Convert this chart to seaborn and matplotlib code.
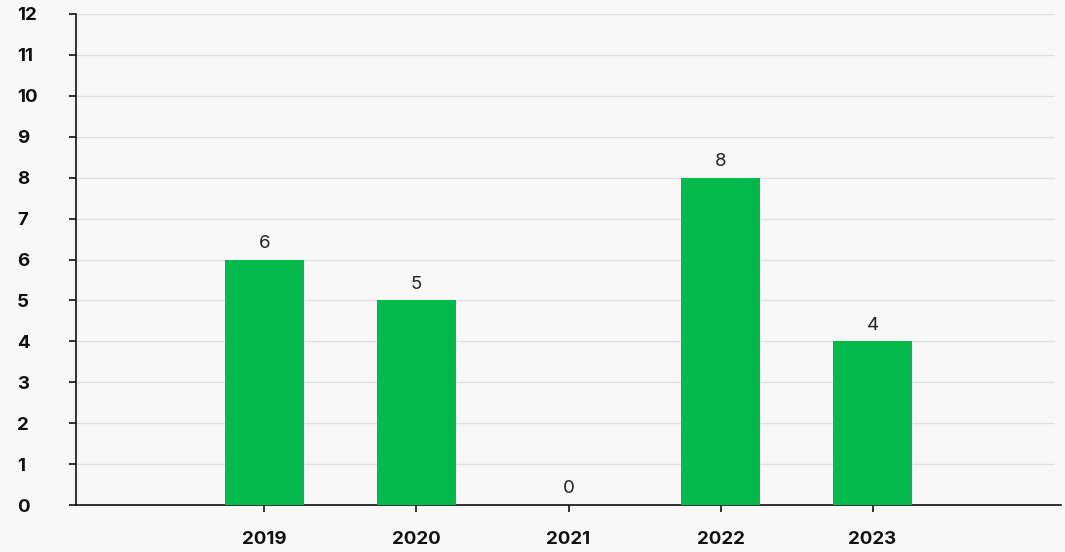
import matplotlib
matplotlib.use("Agg")
import matplotlib.pyplot as plt
import seaborn as sns
import pandas as pd

years = ["2019", "2020", "2021", "2022", "2023"]
counts = [6, 5, 0, 8, 4]
y_ticks = list(range(0, 13))

BG = "#f8f8f8"
GREEN = "#02ba4c"

sns.set_theme(style="white")
plt.rcParams["font.family"] = ["Inter", "DejaVu Sans"]

df = pd.DataFrame({"year": years, "count": counts})

fig = plt.figure(figsize=(10.65, 5.52), dpi=100, facecolor=BG)
ax = fig.add_axes([76 / 1065, 47 / 552, 985 / 1065, 491 / 552])
ax.set_facecolor(BG)

sns.barplot(data=df, x="year", y="count", order=years, color=GREEN,
            width=0.52, saturation=1, linewidth=0, ax=ax, zorder=3)

ax.set_xlim(-1.24, 5.24)
ax.set_ylim(0, 12)
ax.set_yticks(y_ticks)
ax.set_xlabel("")
ax.set_ylabel("")

for y in y_ticks[1:]:
    ax.axhline(y, xmin=0, xmax=978 / 985, color="#e0e0e0", lw=1, zorder=1)

for s in ["top", "right"]:
    ax.spines[s].set_visible(False)
for s in ["left", "bottom"]:
    ax.spines[s].set_color("#111111")
    ax.spines[s].set_linewidth(1.2)

ax.tick_params(axis="y", left=True, length=5, width=1.2, color="#111111",
               pad=37.5, labelsize=13.5, labelcolor="#111111")
ax.tick_params(axis="x", bottom=True, length=5, width=1.2, color="#111111",
               pad=14, labelsize=13.5, labelcolor="#111111")
for lab in ax.get_yticklabels():
    lab.set_fontweight("bold")
    lab.set_horizontalalignment("left")
    lab.set_verticalalignment("center_baseline")
for lab in ax.get_xticklabels():
    lab.set_fontweight("bold")

for i, v in enumerate(counts):
    ax.annotate(str(v), (i, v), xytext=(0, 5.5), textcoords="offset points",
                ha="center", va="bottom", fontsize=13.5, color="#222222")

fig.savefig("out.png", dpi=100, facecolor=BG)
